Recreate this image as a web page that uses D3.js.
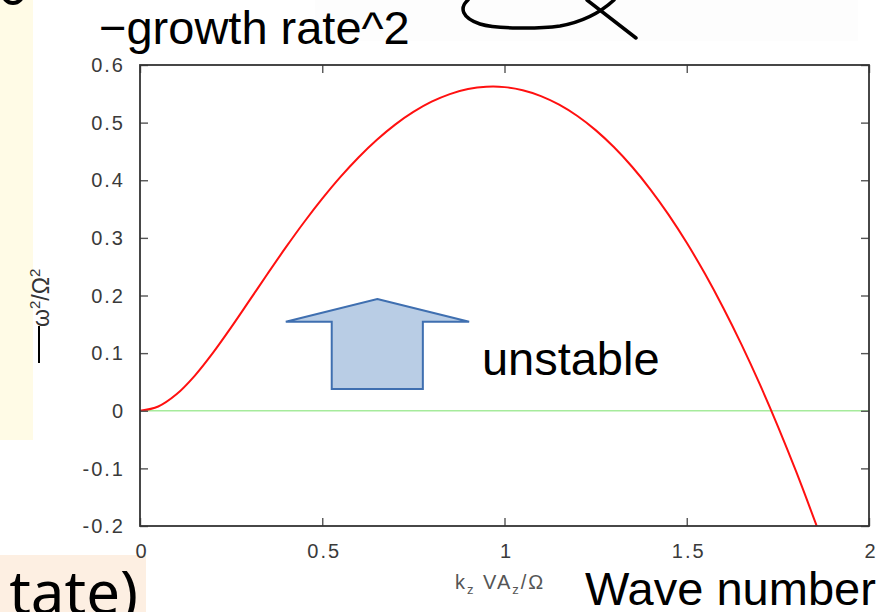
<!DOCTYPE html>
<html>
<head>
<meta charset="utf-8">
<script src="https://cdn.jsdelivr.net/npm/d3@7/dist/d3.min.js"></script>
<style>
  html, body { margin: 0; padding: 0; background: #ffffff; }
  svg { display: block; }
</style>
</head>
<body>
<svg id="chart" width="889" height="612"></svg>
<script>
// Normalised wave number k_z V_Az / Ω
const kValues = [0, 0.05, 0.1, 0.15, 0.2, 0.25, 0.3, 0.35, 0.4, 0.45, 0.5, 0.55, 0.6, 0.65,
  0.7, 0.75, 0.8, 0.85, 0.9, 0.95, 1.0, 1.05, 1.1, 1.15, 1.2, 1.25, 1.3, 1.35, 1.4,
  1.45, 1.5, 1.55, 1.6, 1.65, 1.7, 1.75, 1.8, 1.85, 1.86];
// −ω²/Ω² (squared growth rate)
const growthSq = [0, 0.0074, 0.0285, 0.0606, 0.1003, 0.1446, 0.1910, 0.2377, 0.2834,
  0.3271, 0.3680, 0.4058, 0.4400, 0.4703, 0.4966, 0.5186, 0.5363, 0.5495, 0.5582,
  0.5622, 0.5616, 0.5562, 0.5461, 0.5312, 0.5115, 0.4870, 0.4576, 0.4234, 0.3843,
  0.3403, 0.2914, 0.2376, 0.1788, 0.1152, 0.0466, -0.0270, -0.1054, -0.1889, -0.2062];

const xTicks = [0, 0.5, 1, 1.5, 2];
const xTickLabels = ["0", "0.5", "1", "1.5", "2"];
const yTicks = [0.6, 0.5, 0.4, 0.3, 0.2, 0.1, 0, -0.1, -0.2];
const yTickLabels = ["0.6", "0.5", "0.4", "0.3", "0.2", "0.1", "0", "-0.1", "-0.2"];

// Block arrow outline (data units) marking the unstable region
const arrowX = [0.651, 0.903, 0.776, 0.776, 0.526, 0.526, 0.400];
const arrowY = [0.194, 0.1545, 0.1545, 0.0377, 0.0377, 0.1545, 0.1545];

const svg = d3.select("#chart");
const W = 889, H = 612;
const plot = { left: 140, right: 869, top: 65, bottom: 526 };

const x = d3.scaleLinear().domain([0, 2]).range([plot.left, plot.right]);
const y = d3.scaleLinear().domain([-0.2, 0.6]).range([plot.bottom, plot.top]);

// ---- slide background pieces ----
svg.append("rect").attr("x", 0).attr("y", 0).attr("width", W).attr("height", H).attr("fill", "#ffffff");
svg.append("rect").attr("x", 315).attr("y", 0).attr("width", 543).attr("height", 41).attr("fill", "#fdfdfd");
svg.append("rect").attr("x", 0).attr("y", 0).attr("width", 33).attr("height", 440).attr("fill", "#fffbe6");
svg.append("rect").attr("x", 0).attr("y", 555).attr("width", 146).attr("height", 57).attr("fill", "#fdefe2");

// fragment of a glyph from the line above
svg.append("ellipse").attr("cx", 13).attr("cy", -7).attr("rx", 10).attr("ry", 10)
  .attr("fill", "none").attr("stroke", "#000").attr("stroke-width", 4);

// hand-drawn loop
svg.append("path")
  .attr("d", "M468,0 C459,8 462,18 480,24 C496,29 538,29 560,26 C582,22 600,13 614,0")
  .attr("fill", "none").attr("stroke", "#000").attr("stroke-width", 3.5).attr("stroke-linecap", "round");
svg.append("path")
  .attr("d", "M587,0 L636,38")
  .attr("fill", "none").attr("stroke", "#000").attr("stroke-width", 3.5).attr("stroke-linecap", "round");

// ---- headline text ----
svg.append("text").attr("x", 99).attr("y", 44)
  .attr("font-family", "Liberation Sans, Arial, sans-serif").attr("font-size", 47)
  .attr("fill", "#000").text("\u2212growth rate^2");

svg.append("text").attr("x", 138).attr("y", 614).attr("text-anchor", "end")
  .attr("font-family", "Noto Sans, Open Sans, sans-serif").attr("font-size", 60)
  .attr("fill", "#000").text("tate)");

svg.append("text").attr("x", 585).attr("y", 605)
  .attr("font-family", "Liberation Sans, Arial, sans-serif").attr("font-size", 47)
  .attr("fill", "#000").text("Wave number");

// ---- plot ----
const defs = svg.append("defs");
defs.append("clipPath").attr("id", "plot-clip").append("rect")
  .attr("x", plot.left).attr("y", plot.top)
  .attr("width", plot.right - plot.left).attr("height", plot.bottom - plot.top);

// zero line
svg.append("line")
  .attr("x1", x(0)).attr("x2", x(2)).attr("y1", y(0)).attr("y2", y(0))
  .attr("stroke", "#a6eb9c").attr("stroke-width", 1.6);

// curve
const pts = kValues.map((k, i) => [k, growthSq[i]]);
const line = d3.line().x(d => x(d[0])).y(d => y(d[1])).curve(d3.curveCatmullRom);
svg.append("path").attr("clip-path", "url(#plot-clip)")
  .attr("d", line(pts)).attr("fill", "none")
  .attr("stroke", "#ff1010").attr("stroke-width", 2);

// ticks (inside, mirrored) via axes
const tickStyle = g => {
  g.select(".domain").remove();
  g.selectAll(".tick line").attr("stroke", "#555").attr("stroke-width", 1.4);
  g.selectAll(".tick text").remove();
};
svg.append("g").attr("transform", `translate(${plot.left},0)`)
  .call(d3.axisRight(y).tickValues(yTicks).tickSize(8)).call(tickStyle);
svg.append("g").attr("transform", `translate(${plot.right},0)`)
  .call(d3.axisLeft(y).tickValues(yTicks).tickSize(8)).call(tickStyle);
svg.append("g").attr("transform", `translate(0,${plot.bottom})`)
  .call(d3.axisTop(x).tickValues(xTicks).tickSize(8)).call(tickStyle);
svg.append("g").attr("transform", `translate(0,${plot.top})`)
  .call(d3.axisBottom(x).tickValues(xTicks).tickSize(8)).call(tickStyle);

// frame
svg.append("rect")
  .attr("x", plot.left).attr("y", plot.top)
  .attr("width", plot.right - plot.left).attr("height", plot.bottom - plot.top)
  .attr("fill", "none").attr("stroke", "#333").attr("stroke-width", 1.8);

// tick labels
const tickFont = "Liberation Sans, Arial, sans-serif";
svg.append("g").selectAll("text").data(yTicks).join("text")
  .attr("x", 125).attr("y", d => y(d)).attr("dy", "0.36em")
  .attr("text-anchor", "end").attr("font-family", tickFont).attr("font-size", 20)
  .attr("letter-spacing", 2).attr("fill", "#3a3a3a")
  .text((d, i) => yTickLabels[i]);
svg.append("g").selectAll("text").data(xTicks).join("text")
  .attr("x", d => x(d) + 2).attr("y", 558)
  .attr("text-anchor", "middle").attr("font-family", tickFont).attr("font-size", 20)
  .attr("letter-spacing", 2).attr("fill", "#3a3a3a")
  .text((d, i) => xTickLabels[i]);

// x-axis label k_z VA_z / Ω
const xl = svg.append("text").attr("x", 455).attr("y", 589)
  .attr("font-family", tickFont).attr("font-size", 20).attr("letter-spacing", 2).attr("fill", "#555");
xl.append("tspan").text("k");
xl.append("tspan").attr("font-size", 13).attr("dy", 5).text("z");
xl.append("tspan").attr("dy", -5).text(" VA");
xl.append("tspan").attr("font-size", 13).attr("dy", 5).text("z");
xl.append("tspan").attr("dy", -5).text("/\u03A9");

// y-axis label −ω²/Ω²
svg.append("line").attr("x1", 39).attr("x2", 39).attr("y1", 326).attr("y2", 363)
  .attr("stroke", "#000").attr("stroke-width", 2);
const yl = svg.append("text").attr("transform", "translate(49,327) rotate(-90)")
  .attr("font-family", tickFont).attr("font-size", 23).attr("fill", "#333");
yl.append("tspan").text("\u03C9");
yl.append("tspan").attr("font-size", 15).attr("dy", -9).text("2");
yl.append("tspan").attr("dy", 9).text("/\u03A9");
yl.append("tspan").attr("font-size", 15).attr("dy", -9).text("2");

// unstable arrow
const arrowPts = arrowX.map((v, i) => [x(v), y(arrowY[i])]);
svg.append("polygon")
  .attr("points", arrowPts.map(p => p.join(",")).join(" "))
  .attr("fill", "#b9cde5").attr("stroke", "#3f6fb0").attr("stroke-width", 2)
  .attr("stroke-linejoin", "miter");

svg.append("text").attr("x", x(0.938)).attr("y", y(0.0625))
  .attr("font-family", "Liberation Sans, Arial, sans-serif").attr("font-size", 47)
  .attr("fill", "#000").text("unstable");
</script>
</body>
</html>
